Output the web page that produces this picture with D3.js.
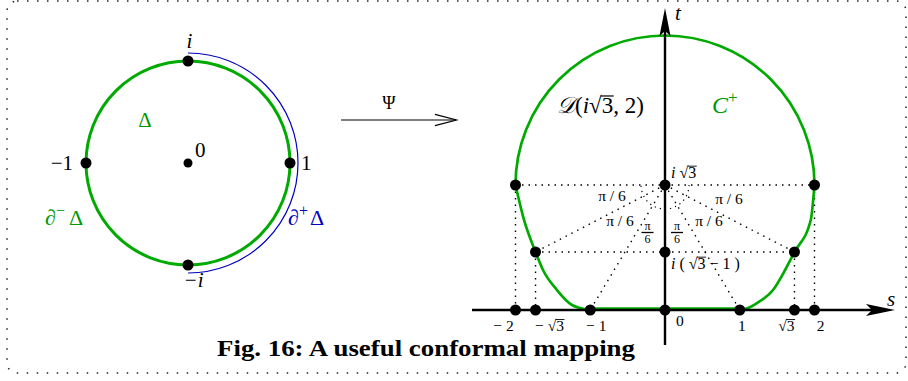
<!DOCTYPE html>
<html>
<head>
<meta charset="utf-8">
<script src="https://cdn.jsdelivr.net/npm/d3@7"></script>
<style>
body { margin: 0; background: #fff; }
svg text { font-family: "Liberation Serif", "DejaVu Serif", serif; }
</style>
</head>
<body>
<script>
var width = 908;
var height = 381;
var r3 = Math.sqrt(3);

// unit disc: points as [re, im]
var discPoints = [[0, 1], [-1, 0], [1, 0], [0, -1], [0, 0]];
var discLabels = ["i", "−1", "1", "−i", "0"];

// image plane, points as [s, t]
var sTicks = [-2, -r3, -1, 0, 1, r3, 2];
var sTickLabels = ["− 2", "− √3", "− 1", "0", "1", "√3", "2"];
var planePoints = [[-2, r3], [2, r3], [-r3, r3 - 1], [r3, r3 - 1], [0, r3], [0, r3 - 1]];
var rayEnds = [[-r3, r3 - 1], [-1, 0], [1, 0], [r3, r3 - 1]];
var discCentre = [0, r3];
var discRadius = 2;

// lower parts of the boundary (s increasing)
var leftLower = [[-2, r3], [-1.886, 1.21], [-r3, r3 - 1], [-1.632, 0.505], [-1.445, 0.252],
    [-1.244, 0.063], [-1.137, 0.025], [-1, 0]];
var rightLower = [[1, 0], [1.11, 0.025], [1.23, 0.088], [1.445, 0.252], [1.607, 0.505],
    [r3, r3 - 1], [1.95, 1.21], [2, r3]];

var green = "#00aa00";
var greenText = "#009a00";
var blue = "#0000c0";

var svg = d3.select("body")
    .append("svg")
    .attr("width", width)
    .attr("height", height);

// dotted frame
svg.append("rect")
    .attr("x", 7)
    .attr("y", 1)
    .attr("width", 899)
    .attr("height", 372)
    .attr("rx", 10)
    .attr("fill", "none")
    .attr("stroke", "#222")
    .attr("stroke-width", 1.5)
    .attr("stroke-dasharray", "1.5 8.5");

// text with a radical; the bar over the radicand is drawn as a line
function radical(sel, before, under, after) {
    if (before) sel.append("tspan").text(before);
    sel.append("tspan").text("√");
    sel.append("tspan").text(under);
    if (after) sel.append("tspan").text(after);
    var node = sel.node();
    var k = node.textContent.indexOf("√");
    var fs = +sel.attr("font-size");
    var a = node.getEndPositionOfChar(k);
    var b = node.getEndPositionOfChar(k + under.length);
    svg.append("line")
        .attr("x1", a.x - 0.6)
        .attr("y1", a.y - fs * 0.74)
        .attr("x2", b.x + 0.5)
        .attr("y2", a.y - fs * 0.74)
        .attr("stroke", sel.attr("fill") || "#000")
        .attr("stroke-width", fs > 17 ? 1.2 : 0.9);
}

// ---------- left: the unit disc ----------
var dx = d3.scaleLinear().domain([-1, 1]).range([86, 290]);
var dy = d3.scaleLinear().domain([-1, 1]).range([265, 61]);

var blueArc = d3.path();
blueArc.arc(dx(0), dy(0), dx(1) - dx(0) + 8, -Math.PI / 2, Math.PI / 2);
svg.append("path")
    .attr("d", blueArc.toString())
    .attr("fill", "none")
    .attr("stroke", blue)
    .attr("stroke-width", 1.2);

svg.append("circle")
    .attr("cx", dx(0))
    .attr("cy", dy(0))
    .attr("r", dx(1) - dx(0))
    .attr("fill", "none")
    .attr("stroke", green)
    .attr("stroke-width", 3);

svg.selectAll(".discdot")
    .data(discPoints)
    .enter()
    .append("circle")
    .attr("cx", function(d) { return dx(d[0]); })
    .attr("cy", function(d) { return dy(d[1]); })
    .attr("r", function(d) { return d[0] == 0 && d[1] == 0 ? 4.5 : 5.5; })
    .attr("fill", "#000");

var discLabelPos = [[1.5, -13, "middle"], [-13, 7, "end"], [11, 7, "start"], [5.5, 22, "middle"], [7, -6, "start"]];
svg.selectAll(".disclabel")
    .data(discPoints)
    .enter()
    .append("text")
    .attr("x", function(d, i) { return dx(d[0]) + discLabelPos[i][0]; })
    .attr("y", function(d, i) { return dy(d[1]) + discLabelPos[i][1]; })
    .attr("text-anchor", function(d, i) { return discLabelPos[i][2]; })
    .attr("font-size", 21)
    .attr("font-style", function(d, i) { return discLabels[i].indexOf("i") >= 0 ? "italic" : "normal"; })
    .text(function(d, i) { return discLabels[i]; });

svg.append("text")
    .attr("x", 145)
    .attr("y", 127)
    .attr("text-anchor", "middle")
    .attr("font-size", 21)
    .attr("fill", greenText)
    .text("Δ");

var dminus = svg.append("text")
    .attr("x", 45)
    .attr("y", 225)
    .attr("font-size", 22)
    .attr("fill", greenText);
dminus.append("tspan").text("∂");
dminus.append("tspan").attr("font-size", 16).attr("dy", -9).text("−");
dminus.append("tspan").attr("dy", 9).attr("dx", 4).text("Δ");

var dplus = svg.append("text")
    .attr("x", 288)
    .attr("y", 225)
    .attr("font-size", 22)
    .attr("fill", blue);
dplus.append("tspan").text("∂");
dplus.append("tspan").attr("font-size", 16).attr("dy", -9).text("+");
dplus.append("tspan").attr("dy", 9).attr("dx", 2).text("Δ");

// ---------- the map arrow ----------
svg.append("line")
    .attr("x1", 341).attr("y1", 120)
    .attr("x2", 456).attr("y2", 120)
    .attr("stroke", "#000")
    .attr("stroke-width", 1.2);
svg.append("path")
    .attr("d", "M435,114.3 L456.5,120 L435,125.7")
    .attr("fill", "none")
    .attr("stroke", "#000")
    .attr("stroke-width", 1.2);
svg.append("text")
    .attr("x", 389)
    .attr("y", 109)
    .attr("text-anchor", "middle")
    .attr("font-size", 18)
    .text("Ψ");

// ---------- right: the image plane ----------
var xs = d3.scaleLinear().domain([-2, 2]).range([515.5, 814.5]);
var ts = d3.scaleLinear().domain([0, r3 - 1, r3]).range([310, 252, 185]);

var dotted = "1.5 5";

svg.selectAll(".hdot")
    .data([[planePoints[0], planePoints[1]], [planePoints[2], planePoints[3]]])
    .enter()
    .append("line")
    .attr("x1", function(d) { return xs(d[0][0]); })
    .attr("y1", function(d) { return ts(d[0][1]); })
    .attr("x2", function(d) { return xs(d[1][0]); })
    .attr("y2", function(d) { return ts(d[1][1]); })
    .attr("stroke", "#000")
    .attr("stroke-width", 1.4)
    .attr("stroke-dasharray", dotted);

svg.selectAll(".vdot")
    .data(planePoints.slice(0, 4))
    .enter()
    .append("line")
    .attr("x1", function(d) { return xs(d[0]); })
    .attr("y1", function(d) { return ts(d[1]); })
    .attr("x2", function(d) { return xs(d[0]); })
    .attr("y2", ts(0))
    .attr("stroke", "#000")
    .attr("stroke-width", 1.4)
    .attr("stroke-dasharray", dotted);

svg.selectAll(".ray")
    .data(rayEnds)
    .enter()
    .append("line")
    .attr("x1", xs(discCentre[0]))
    .attr("y1", ts(discCentre[1]))
    .attr("x2", function(d) { return xs(d[0]); })
    .attr("y2", function(d) { return ts(d[1]); })
    .attr("stroke", "#000")
    .attr("stroke-width", 1.4)
    .attr("stroke-dasharray", dotted);

// small angle marks round i√3
var angleMark = d3.path();
angleMark.arc(xs(0), ts(r3), 24, 0, Math.PI);
svg.append("path")
    .attr("d", angleMark.toString())
    .attr("fill", "none")
    .attr("stroke", "#000")
    .attr("stroke-width", 1.2)
    .attr("stroke-dasharray", "1.2 4");

// boundary of the image domain
var rpx = xs(discRadius) - xs(0);
var topArc = d3.path();
topArc.arc(xs(discCentre[0]), ts(discCentre[1]), rpx, Math.PI, 2 * Math.PI);
svg.append("path")
    .attr("d", topArc.toString())
    .attr("fill", "none")
    .attr("stroke", green)
    .attr("stroke-width", 2.7);

var lowerLine = d3.line()
    .x(function(d) { return xs(d[0]); })
    .y(function(d) { return ts(d[1]); })
    .curve(d3.curveMonotoneX);

svg.selectAll(".lower")
    .data([leftLower, rightLower])
    .enter()
    .append("path")
    .attr("d", lowerLine)
    .attr("fill", "none")
    .attr("stroke", green)
    .attr("stroke-width", 2.7);

svg.append("line")
    .attr("x1", xs(-1)).attr("y1", ts(0) - 1.5)
    .attr("x2", xs(1)).attr("y2", ts(0) - 1.5)
    .attr("stroke", green)
    .attr("stroke-width", 2.5);

// axes
svg.append("line")
    .attr("x1", 472).attr("y1", ts(0))
    .attr("x2", 875).attr("y2", ts(0))
    .attr("stroke", "#000")
    .attr("stroke-width", 2.4);
svg.append("path")
    .attr("d", "M895," + ts(0) + " L866," + (ts(0) - 6) + " L872," + ts(0) + " L866," + (ts(0) + 6) + " Z")
    .attr("fill", "#000");

svg.append("line")
    .attr("x1", xs(0)).attr("y1", 345)
    .attr("x2", xs(0)).attr("y2", 28)
    .attr("stroke", "#000")
    .attr("stroke-width", 2.4);
svg.append("path")
    .attr("d", "M" + xs(0) + ",8 L" + (xs(0) - 5.5) + ",36 L" + xs(0) + ",31 L" + (xs(0) + 5.5) + ",36 Z")
    .attr("fill", "#000");

svg.append("text")
    .attr("x", 675).attr("y", 20)
    .attr("font-size", 21)
    .attr("font-style", "italic")
    .text("t");
svg.append("text")
    .attr("x", 887).attr("y", 306)
    .attr("font-size", 21)
    .attr("font-style", "italic")
    .text("s");

// dots
svg.selectAll(".tickdot")
    .data(sTicks)
    .enter()
    .append("circle")
    .attr("cx", function(d) { return xs(d); })
    .attr("cy", ts(0))
    .attr("r", 5.5)
    .attr("fill", "#000");

svg.selectAll(".planedot")
    .data(planePoints)
    .enter()
    .append("circle")
    .attr("cx", function(d) { return xs(d[0]); })
    .attr("cy", function(d) { return ts(d[1]); })
    .attr("r", 5.5)
    .attr("fill", "#000");

var tickNudge = [-12, 14, 6, 11, 2, -8, 6];
svg.selectAll(".ticklabel")
    .data(sTicks)
    .enter()
    .append("text")
    .attr("x", function(d, i) { return xs(d) + tickNudge[i]; })
    .attr("y", function(d, i) { return i == 3 ? 326 : 331; })
    .attr("text-anchor", function(d, i) { return i == 3 ? "start" : "middle"; })
    .attr("font-size", 15.5)
    .each(function(d, i) {
        var s = sTickLabels[i];
        var k = s.indexOf("√");
        if (k >= 0) radical(d3.select(this), s.slice(0, k), s.slice(k + 1), "");
        else d3.select(this).text(s);
    });

var lab1 = svg.append("text")
    .attr("x", 671).attr("y", 178)
    .attr("font-size", 16);
lab1.append("tspan").attr("font-style", "italic").text("i ");
radical(lab1, "", "3", "");

var lab2 = svg.append("text")
    .attr("x", 671).attr("y", 269)
    .attr("font-size", 16);
lab2.append("tspan").attr("font-style", "italic").text("i ");
radical(lab2, "( ", "3", " − 1 )");

var piLabels = [[612, 201], [729, 204], [620, 226], [709, 226]];
svg.selectAll(".pilabel")
    .data(piLabels)
    .enter()
    .append("text")
    .attr("x", function(d) { return d[0]; })
    .attr("y", function(d) { return d[1]; })
    .attr("text-anchor", "middle")
    .attr("font-size", 15.5)
    .text("π / 6");

[647.5, 677].forEach(function(cx) {
    svg.append("text")
        .attr("x", cx).attr("y", 230)
        .attr("text-anchor", "middle")
        .attr("font-size", 12)
        .text("π");
    svg.append("line")
        .attr("x1", cx - 6).attr("y1", 232.5)
        .attr("x2", cx + 6).attr("y2", 232.5)
        .attr("stroke", "#000")
        .attr("stroke-width", 1.3);
    svg.append("text")
        .attr("x", cx).attr("y", 243)
        .attr("text-anchor", "middle")
        .attr("font-size", 12)
        .text("6");
});

var dlab = svg.append("text")
    .attr("x", 557).attr("y", 113)
    .attr("font-size", 23);
dlab.append("tspan").attr("font-style", "italic").text("𝒟");
dlab.append("tspan").text("(");
dlab.append("tspan").attr("font-style", "italic").text("i");
radical(dlab, "", "3", ", 2)");

var clab = svg.append("text")
    .attr("x", 712).attr("y", 113)
    .attr("font-size", 24)
    .attr("fill", greenText);
clab.append("tspan").attr("font-style", "italic").text("C");
clab.append("tspan").attr("font-size", 17).attr("dy", -10).text("+");

// caption
svg.append("text")
    .attr("x", 426)
    .attr("y", 356)
    .attr("text-anchor", "middle")
    .attr("font-size", 24)
    .attr("font-weight", "bold")
    .attr("textLength", 418)
    .attr("lengthAdjust", "spacingAndGlyphs")
    .text("Fig. 16: A useful conformal mapping");
</script>
</body>
</html>
